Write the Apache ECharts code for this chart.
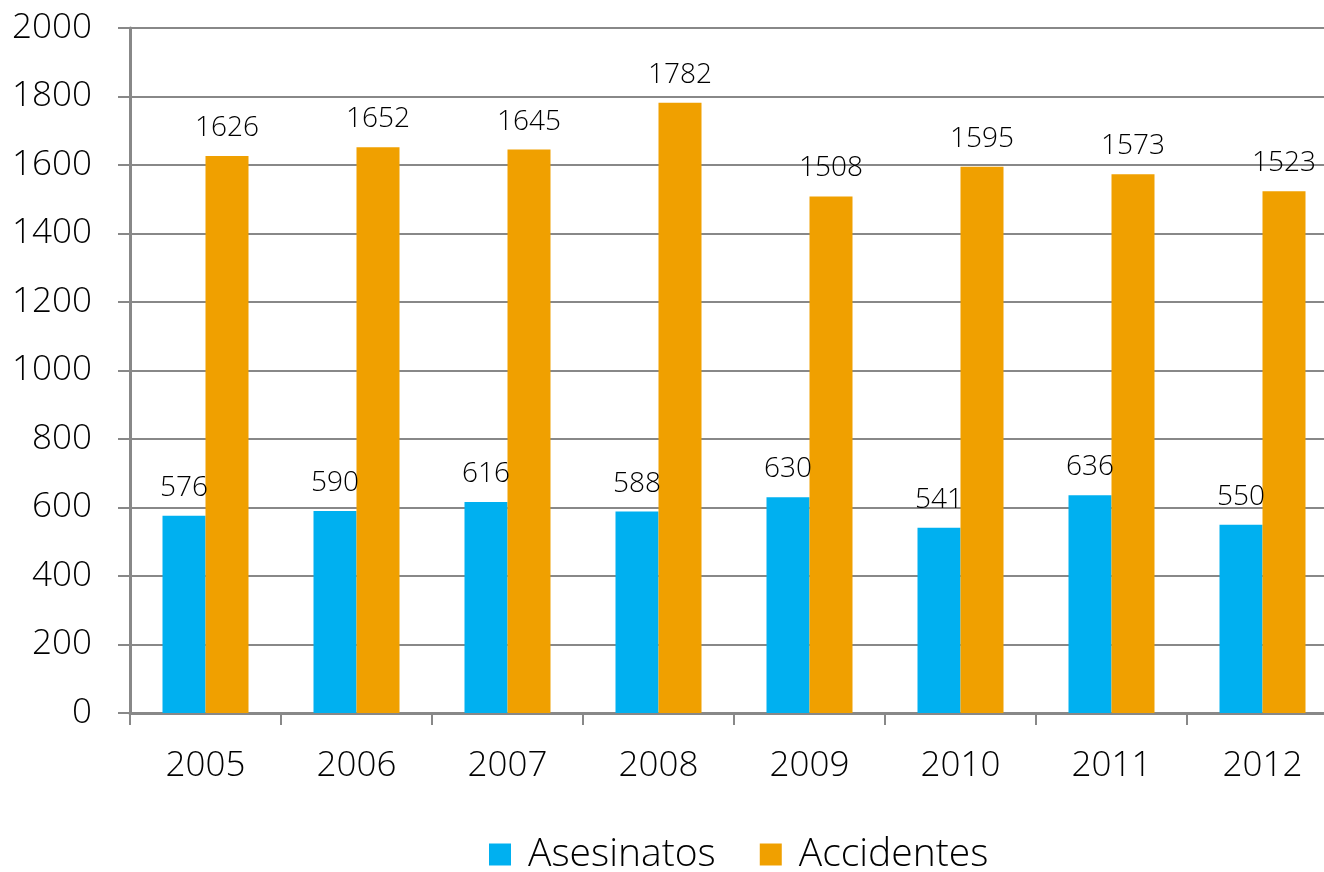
<!DOCTYPE html>
<html>
<head>
<meta charset="utf-8">
<script src="https://cdn.jsdelivr.net/npm/echarts@6/dist/echarts.min.js"></script>
<style>
    html, body { margin: 0; padding: 0; background: #fff; overflow: hidden; }
    #mainChart { width: 1338px; height: 872px; }
</style>
</head>
<body>
<div id="mainChart"></div>
<script>
var years = ["2005", "2006", "2007", "2008", "2009", "2010", "2011", "2012"];
var asesinatos = [576, 590, 616, 588, 630, 541, 636, 550];
var accidentes = [1626, 1652, 1645, 1782, 1508, 1595, 1573, 1523];
var yTicks = { min: 0, max: 2000, interval: 200 };

var n = echarts.init(document.getElementById("mainChart"));
var fontName = "Open Sans";
n.setOption({
    backgroundColor: "#fff",
    animation: false,
    textStyle: { fontFamily: fontName },
    legend: {
        data: ["Asesinatos", "Accidentes"],
        left: 484, top: 830,
        icon: "rect", itemWidth: 22, itemHeight: 22, itemGap: 44,
        textStyle: { fontSize: 39, color: "#000", fontFamily: fontName, fontWeight: 300, padding: [0, 0, 0, 12] }
    },
    grid: { left: 130, right: 0, top: 28, bottom: 159, containLabel: false },
    xAxis: [{
        type: "category",
        data: years,
        axisLine: { lineStyle: { color: "#888", width: 3 } },
        axisTick: { show: true, length: 12, lineStyle: { color: "#888", width: 2 } },
        axisLabel: { fontSize: 35, color: "#000", margin: 36, fontWeight: 300 },
        splitLine: { show: false }
    }],
    yAxis: [{
        type: "value",
        min: yTicks.min, max: yTicks.max, interval: yTicks.interval,
        axisLine: { show: true, lineStyle: { color: "#888", width: 3 } },
        axisTick: { show: true, length: 12, lineStyle: { color: "#888", width: 2 } },
        axisLabel: {
            fontSize: 35, color: "#000", margin: 38, fontWeight: 300,
            formatter: function (v) { return String(v); }
        },
        splitLine: { show: true, lineStyle: { color: "#888", width: 2 } }
    }],
    series: [{
        name: "Asesinatos", type: "bar", barWidth: 43, barGap: "0%",
        itemStyle: { color: "#00B0F0" },
        label: { show: true, position: "top", distance: 14, fontSize: 28, color: "#000", fontWeight: 300 },
        data: asesinatos
    }, {
        name: "Accidentes", type: "bar", barWidth: 43, barGap: "0%",
        itemStyle: { color: "#F0A000" },
        label: { show: true, position: "top", distance: 14, fontSize: 28, color: "#000", fontWeight: 300 },
        data: accidentes
    }]
});
</script>
</body>
</html>
